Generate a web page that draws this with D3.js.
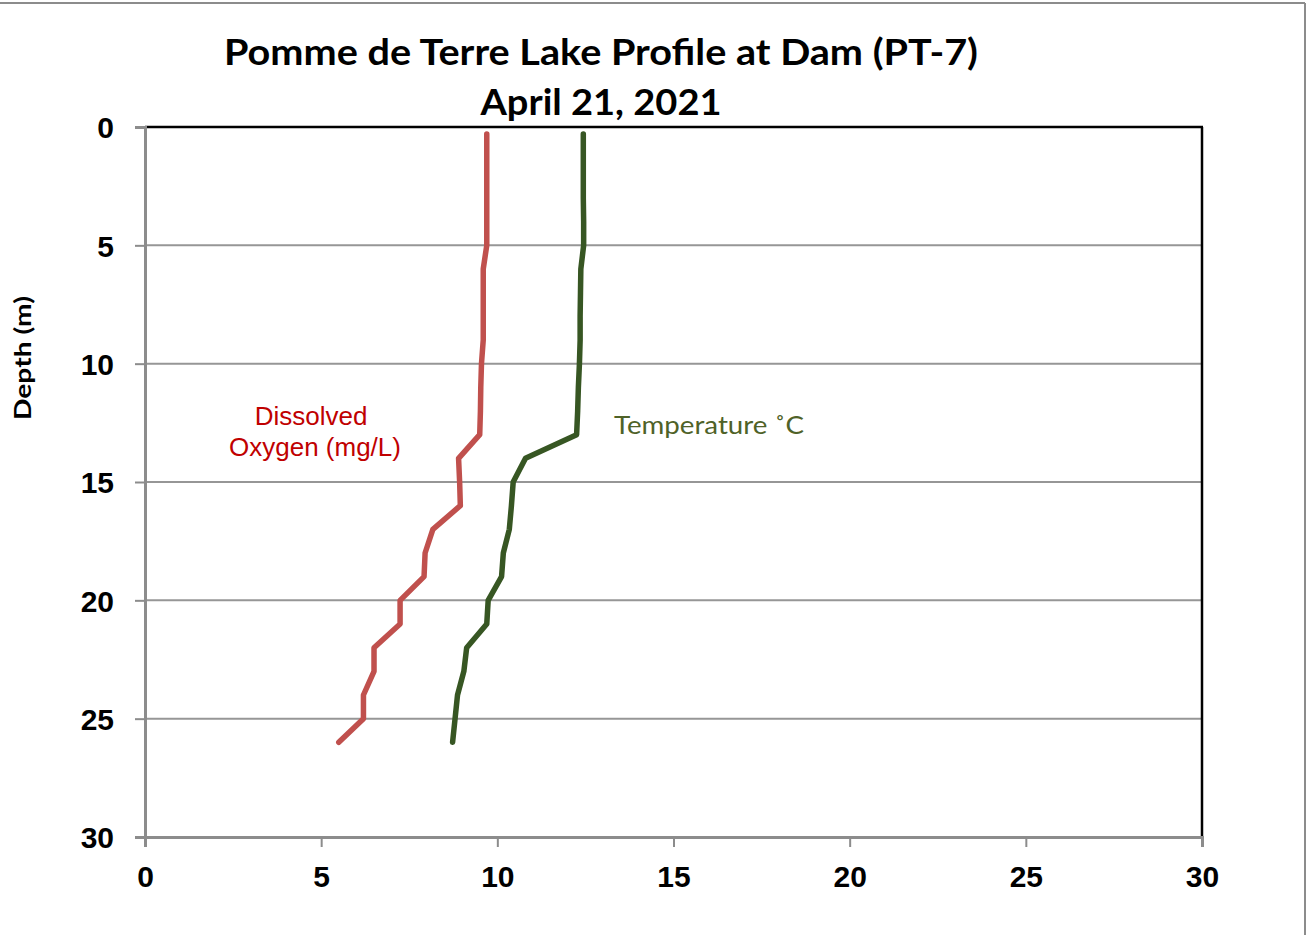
<!DOCTYPE html>
<html>
<head>
<meta charset="utf-8">
<script src="https://cdn.jsdelivr.net/npm/d3@7"></script>
<style>
  html, body { margin: 0; padding: 0; background: #fff; }
  svg { display: block; }
</style>
</head>
<body>
<svg id="chart" width="1315" height="935"></svg>
<script>
// ---- data ----
const depths = [0.3, 1, 2, 3, 4, 5, 6, 7, 8, 9, 10, 11, 12, 13, 14, 15, 16, 17, 18, 19, 20, 21, 22, 23, 24, 25, 26];
const dissolvedOxygen = [9.7, 9.7, 9.7, 9.7, 9.7, 9.7, 9.6, 9.6, 9.6, 9.6, 9.55, 9.53, 9.52, 9.5, 8.9, 8.93, 8.95, 8.17, 7.95, 7.92, 7.24, 7.24, 6.5, 6.5, 6.2, 6.2, 5.5];
const temperature = [12.44, 12.44, 12.44, 12.44, 12.45, 12.45, 12.37, 12.36, 12.35, 12.35, 12.33, 12.3, 12.28, 12.25, 10.8, 10.45, 10.4, 10.34, 10.17, 10.12, 9.74, 9.7, 9.13, 9.05, 8.87, 8.8, 8.73];
const xTicks = [0, 5, 10, 15, 20, 25, 30];
const yTicks = [0, 5, 10, 15, 20, 25, 30];
const titleLines = ["Pomme de Terre Lake Profile at Dam (PT-7)", "April 21, 2021"];
const yAxisTitle = "Depth (m)";
const doLabel = ["Dissolved", "Oxygen (mg/L)"];
const tempLabel = "Temperature ˚C";

// ---- layout ----
const svg = d3.select("#chart");
const L = 145, R = 1202, T = 127, B = 837;
const x = d3.scaleLinear().domain([0, 30]).range([L, R]);
const y = d3.scaleLinear().domain([0, 30]).range([T, B]);

// outer frame (top and right visible)
svg.append("line").attr("x1", 0).attr("x2", 1305).attr("y1", 3).attr("y2", 3)
  .attr("stroke", "#8c8c8c").attr("stroke-width", 2);
svg.append("line").attr("x1", 1305).attr("x2", 1305).attr("y1", 3).attr("y2", 935)
  .attr("stroke", "#8c8c8c").attr("stroke-width", 2);

// gridlines
svg.append("g").selectAll("line").data(yTicks.filter(d => d > 0 && d < 30)).join("line")
  .attr("x1", L).attr("x2", R).attr("y1", d => y(d)).attr("y2", d => y(d))
  .attr("stroke", "#969696").attr("stroke-width", 2);

// top and right plot border (black)
svg.append("line").attr("x1", L).attr("x2", R + 1).attr("y1", T).attr("y2", T)
  .attr("stroke", "#000").attr("stroke-width", 2.5);
svg.append("line").attr("x1", R).attr("x2", R).attr("y1", T).attr("y2", B)
  .attr("stroke", "#000").attr("stroke-width", 2.5);

const tickFont = "Liberation Sans, Arial, sans-serif";

// y axis (left)
const yAxis = d3.axisLeft(y).tickValues(yTicks).tickSize(10).tickPadding(21).tickFormat(d3.format("d"));
const gy = svg.append("g").attr("transform", `translate(${L},0)`).call(yAxis);
gy.select(".domain").attr("stroke", "#8c8c8c").attr("stroke-width", 3);
gy.selectAll(".tick line").attr("stroke", "#8c8c8c").attr("stroke-width", 2);
gy.selectAll(".tick text").attr("font-family", tickFont)
  .attr("font-weight", "bold").attr("font-size", 30).attr("fill", "#000").attr("dy", "0.36em");

// x axis (bottom)
const xAxis = d3.axisBottom(x).tickValues(xTicks).tickSize(10).tickPadding(19).tickFormat(d3.format("d"));
const gx = svg.append("g").attr("transform", `translate(0,${B})`).call(xAxis);
gx.select(".domain").attr("stroke", "#8c8c8c").attr("stroke-width", 3);
gx.selectAll(".tick line").attr("stroke", "#8c8c8c").attr("stroke-width", 2);
gx.selectAll(".tick text").attr("font-family", tickFont)
  .attr("font-weight", "bold").attr("font-size", 30).attr("fill", "#000");

// lines
const lineGen = (vals) => d3.line().x((d, i) => x(vals[i])).y(d => y(d))(depths);
svg.append("path").attr("d", lineGen(dissolvedOxygen)).attr("fill", "none")
  .attr("stroke", "#C0504D").attr("stroke-width", 5.5).attr("stroke-linejoin", "round").attr("stroke-linecap", "round");
svg.append("path").attr("d", lineGen(temperature)).attr("fill", "none")
  .attr("stroke", "#375623").attr("stroke-width", 5.5).attr("stroke-linejoin", "round").attr("stroke-linecap", "round");

// title
const tfont = "Lato, 'Open Sans', sans-serif";
svg.append("text").attr("x", 601).attr("y", 65).attr("text-anchor", "middle")
  .attr("font-family", tfont).attr("font-weight", "bold").attr("font-size", 36)
  .attr("textLength", 754).attr("lengthAdjust", "spacingAndGlyphs").text(titleLines[0]);
svg.append("text").attr("x", 601).attr("y", 115).attr("text-anchor", "middle")
  .attr("font-family", tfont).attr("font-weight", "bold").attr("font-size", 36)
  .attr("textLength", 241).attr("lengthAdjust", "spacingAndGlyphs").text(titleLines[1]);

// y axis title
svg.append("text").attr("transform", "translate(31,358) rotate(-90)").attr("text-anchor", "middle")
  .attr("font-family", tfont).attr("font-weight", "bold").attr("font-size", 22)
  .attr("textLength", 124).attr("lengthAdjust", "spacingAndGlyphs").text(yAxisTitle);

// series labels
const doText = svg.append("text").attr("text-anchor", "middle")
  .attr("font-family", tickFont).attr("font-size", 26).attr("fill", "#C00000");
doText.append("tspan").attr("x", 311).attr("y", 425).text(doLabel[0]);
doText.append("tspan").attr("x", 315).attr("y", 456).text(doLabel[1]);

svg.append("text").attr("x", 614).attr("y", 434)
  .attr("font-family", tfont).attr("font-size", 25).attr("fill", "#4F6228")
  .attr("textLength", 190).attr("lengthAdjust", "spacingAndGlyphs").text(tempLabel);
</script>
</body>
</html>
